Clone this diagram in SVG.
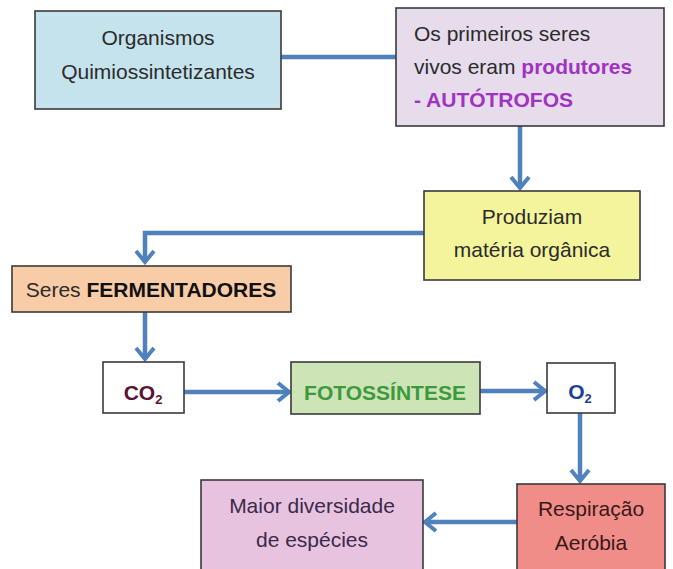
<svg xmlns="http://www.w3.org/2000/svg" width="673" height="569" viewBox="0 0 673 569">
<defs>
<marker id="ah" markerUnits="userSpaceOnUse" viewBox="0 0 16 22" refX="13" refY="11" markerWidth="16" markerHeight="22" orient="auto">
<path d="M2,2 L13,11 L2,20" fill="none" stroke="#4f81bd" stroke-width="4" stroke-linejoin="miter"/>
</marker>
<style>
.box{stroke:#3a3a3a;stroke-width:1.6}
.t{font-family:"Liberation Sans",Arial,sans-serif;font-size:21px}
.c{text-anchor:middle}
.b{font-weight:bold}
.con{fill:none;stroke:#4f81bd;stroke-width:4.5}
</style>
</defs>
<rect width="673" height="569" fill="#ffffff"/>
<g id="connectors">
<line class="con" x1="281" y1="57" x2="396" y2="57"/>
<line class="con" x1="520" y1="126" x2="520" y2="188" marker-end="url(#ah)"/>
<polyline class="con" points="424,233 145,233 145,262" marker-end="url(#ah)"/>
<line class="con" x1="145" y1="312" x2="145" y2="359" marker-end="url(#ah)"/>
<line class="con" x1="184" y1="392" x2="289" y2="392" marker-end="url(#ah)"/>
<line class="con" x1="480" y1="391" x2="545" y2="391" marker-end="url(#ah)"/>
<line class="con" x1="580" y1="413" x2="580" y2="481" marker-end="url(#ah)"/>
<line class="con" x1="517" y1="522" x2="425" y2="522" marker-end="url(#ah)"/>
</g>
<g id="n-quimio" fill="#2b2b2b">
<rect class="box" x="35" y="11" width="246" height="98" fill="#c5e3ed"/>
<text class="t c" x="158" y="45">Organismos</text>
<text class="t c" x="158" y="79">Quimiossintetizantes</text>
</g>
<g id="n-primeiros" fill="#2b2b2b">
<rect class="box" x="396" y="8" width="268" height="118" fill="#e6dcec"/>
<text class="t" x="414" y="41">Os primeiros seres</text>
<text class="t" x="414" y="74">vivos eram <tspan class="b" fill="#a033c0">produtores</tspan></text>
<text class="t b" x="414" y="107" fill="#a033c0">- AUTÓTROFOS</text>
</g>
<g id="n-produziam" fill="#2b2b2b">
<rect class="box" x="424" y="191" width="216" height="89" fill="#f4f49c"/>
<text class="t c" x="532" y="224">Produziam</text>
<text class="t c" x="532" y="257">matéria orgânica</text>
</g>
<g id="n-fermentadores" fill="#2b2b2b">
<rect class="box" x="12" y="266" width="279" height="46" fill="#f9cca8"/>
<text class="t c" x="151" y="297">Seres <tspan class="b" fill="#111111">FERMENTADORES</tspan></text>
</g>
<g id="n-co2">
<rect class="box" x="103" y="362" width="81" height="51" fill="#ffffff"/>
<text class="t c b" x="143" y="400" fill="#5a1232">CO<tspan font-size="13" dy="4">2</tspan></text>
</g>
<g id="n-fotossintese">
<rect class="box" x="291" y="362" width="189" height="52" fill="#cde4b6"/>
<text class="t c b" x="385" y="400" fill="#3c9a3c">FOTOSSÍNTESE</text>
</g>
<g id="n-o2">
<rect class="box" x="547" y="363" width="68" height="50" fill="#ffffff"/>
<text class="t c b" x="580" y="399" fill="#1f3f8f">O<tspan font-size="13" dy="4">2</tspan></text>
</g>
<g id="n-respiracao">
<rect class="box" x="517" y="484" width="148" height="100" fill="#f08d89"/>
<text class="t c" x="591" y="516" fill="#3a1818">Respiração</text>
<text class="t c" x="591" y="550" fill="#3a1818">Aeróbia</text>
</g>
<g id="n-diversidade">
<rect class="box" x="201" y="480" width="222" height="104" fill="#e8c3e0"/>
<text class="t c" x="312" y="513" fill="#3a2a4a">Maior diversidade</text>
<text class="t c" x="312" y="547" fill="#3a2a4a">de espécies</text>
</g>
</svg>
